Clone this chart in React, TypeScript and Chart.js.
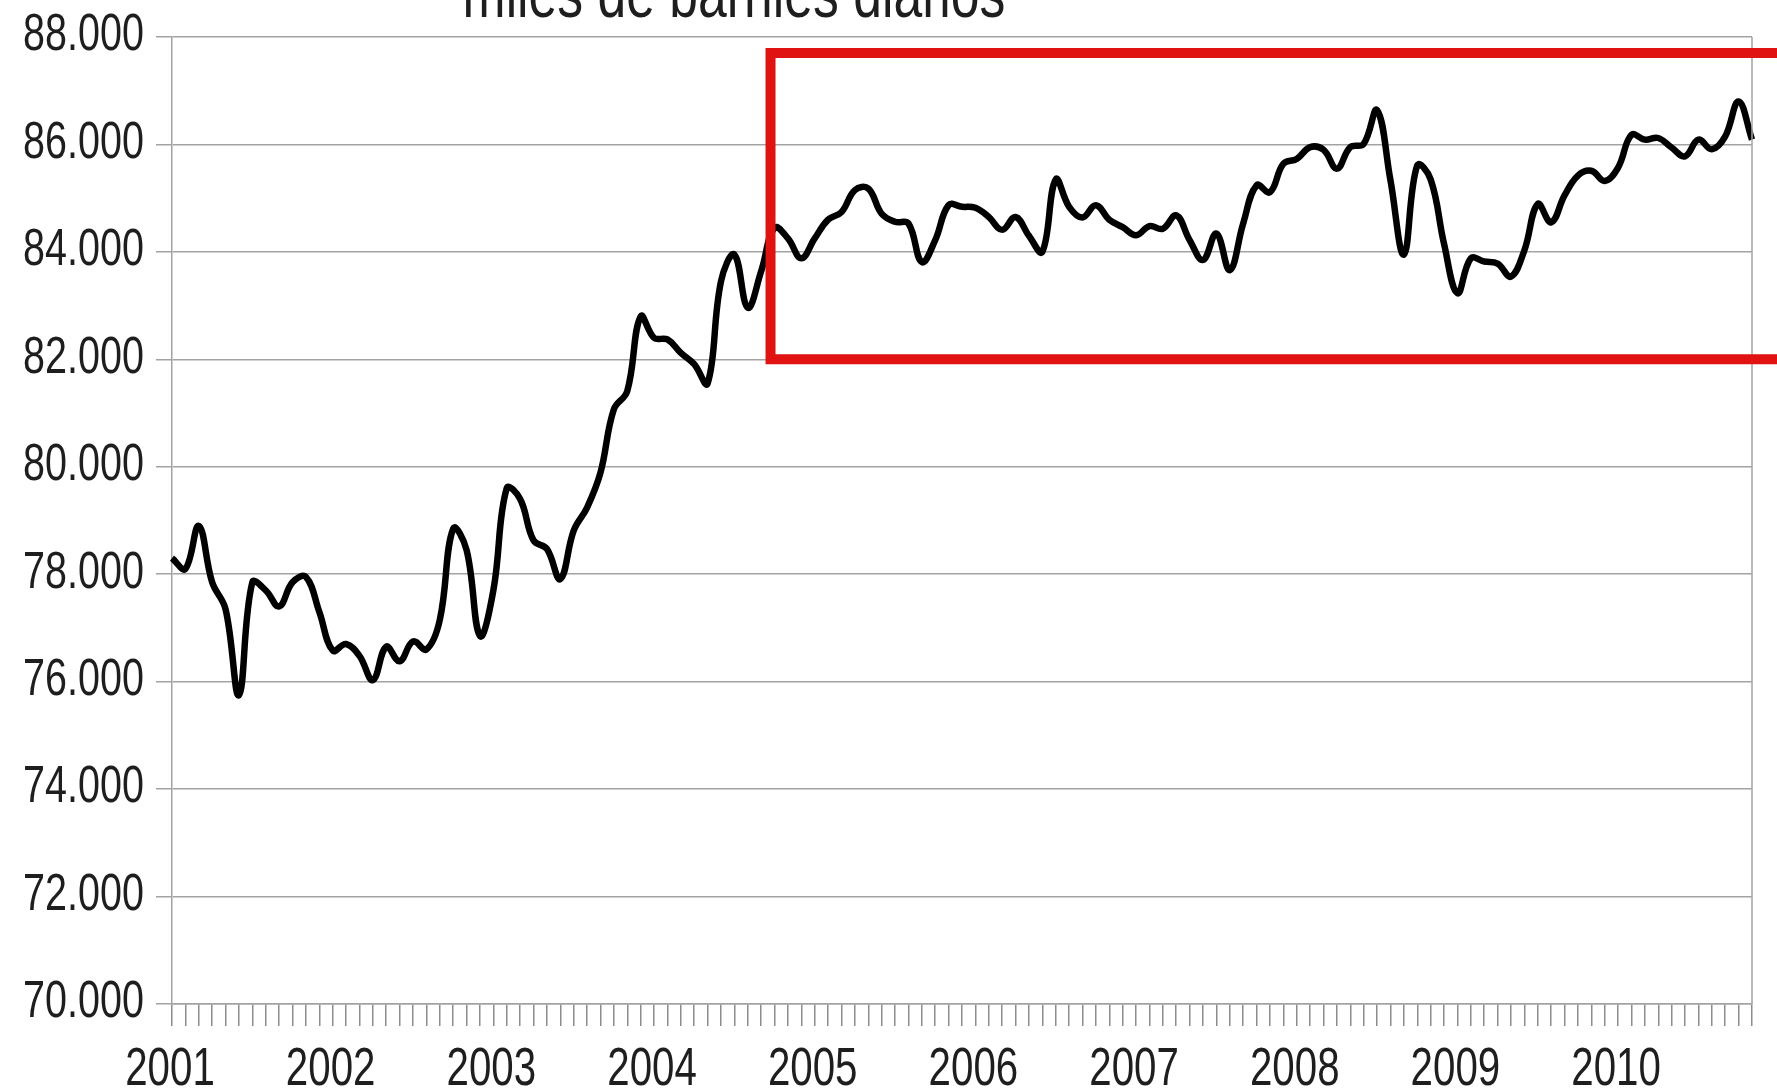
import React, { useEffect, useRef } from "react";
import { Chart, registerables } from "chart.js";

Chart.register(...registerables);

// ---- data -------------------------------------------------------------
const TITLE = "miles de barriles diarios";
const YEAR_LABELS = ["2001", "2002", "2003", "2004", "2005", "2006", "2007", "2008", "2009", "2010"];

// monthly values, Jan 2001 .. Nov 2010 (miles de barriles diarios)
const PRODUCTION = [
  78300, 78100, 78900, 77850, 77350, 75750, 77850, 77700, 77400, 77850, 77950, 77300,
  76580, 76700, 76480, 76030, 76650, 76380, 76750, 76600, 77150, 78850, 78450, 76850,
  77700, 79600, 79400, 78630, 78470, 77910, 78810, 79240, 79890, 81070, 81410, 82800,
  82400, 82370, 82120, 81910, 81550, 83450, 83950, 82960, 83640, 84450, 84250, 83880,
  84250, 84600, 84740, 85150, 85180, 84710, 84560, 84530, 83810, 84220, 84870, 84840,
  84820, 84650, 84410, 84650, 84300, 84000, 85350, 84840, 84640, 84870, 84600, 84460,
  84310, 84480, 84430, 84680, 84220, 83850, 84340, 83660, 84530, 85240, 85110, 85640,
  85730, 85950, 85900, 85550, 85950, 86010, 86640, 85330, 83950, 85610, 85350, 84150,
  83230, 83880, 83820, 83780, 83540, 84030, 84890, 84550, 85050, 85420, 85510, 85320,
  85570, 86180, 86090, 86120, 85940, 85780, 86090, 85910, 86150, 86800, 86090,
];

const Y_MIN = 70000;
const Y_MAX = 88000;
const Y_STEP = 2000;

// highlighted box (month index from Jan 2001, value range)
const BOX_START_MONTH = 44.7;
const BOX_TOP = 87700;
const BOX_BOTTOM = 82000;

// ---- helpers ----------------------------------------------------------
const MONTH_LABELS = PRODUCTION.map((_, i) => {
  const y = Number(YEAR_LABELS[0]) + Math.floor(i / 12);
  const m = (i % 12) + 1;
  return `${y}-${m < 10 ? "0" + m : m}`;
});

const fmtThousands = (v: number) => {
  const t = Math.floor(v / 1000);
  const r = Math.round(v % 1000);
  return `${t}.${String(r).padStart(3, "0")}`;
};

const FONT_FAMILY = '"Liberation Sans", Arial, sans-serif';
const TEXT_COLOR = "#1e1e1e";
const GRID_COLOR = "#a3a3a3";
const NARROW = 0.76; // horizontal squeeze of the narrow lettering

const W = 1777;
const H = 1089;

function narrowText(ctx: CanvasRenderingContext2D, text: string, x: number, y: number, size: number, align: CanvasTextAlign, baseline: CanvasTextBaseline, sx = NARROW) {
  ctx.save();
  ctx.font = `${size}px ${FONT_FAMILY}`;
  ctx.fillStyle = TEXT_COLOR;
  ctx.textAlign = align;
  ctx.textBaseline = baseline;
  ctx.translate(x, y);
  ctx.scale(sx, 1);
  ctx.fillText(text, 0, 0);
  ctx.restore();
}

const overlayPlugin = {
  id: "overlay",
  afterDatasetsDraw(chart: any) {
    const { ctx, chartArea, scales } = chart;
    const xs = scales.x;
    const ys = scales.y;
    ctx.save();
    // right border of plot area
    ctx.strokeStyle = GRID_COLOR;
    ctx.lineWidth = 1.5;
    ctx.beginPath();
    ctx.moveTo(chartArea.right, chartArea.top);
    ctx.lineTo(chartArea.right, chartArea.bottom);
    ctx.stroke();
    // red box
    const x0 = xs.getPixelForValue(BOX_START_MONTH);
    const yTop = ys.getPixelForValue(BOX_TOP);
    const yBot = ys.getPixelForValue(BOX_BOTTOM);
    ctx.strokeStyle = "#e01212";
    ctx.lineWidth = 10;
    ctx.beginPath();
    ctx.moveTo(chart.width + 20, yTop);
    ctx.lineTo(x0, yTop);
    ctx.lineTo(x0, yBot);
    ctx.lineTo(chart.width + 20, yBot);
    ctx.stroke();
    ctx.restore();
  },
  afterDraw(chart: any) {
    const { ctx, chartArea, scales } = chart;
    const xs = scales.x;
    const ys = scales.y;
    // y tick labels
    ys.ticks.forEach((t: any) => {
      const y = ys.getPixelForValue(t.value);
      narrowText(ctx, fmtThousands(t.value), chartArea.left - 28, y - 1, 52, "right", "middle");
    });
    // x (year) labels at each January
    YEAR_LABELS.forEach((lab, k) => {
      const x = xs.getPixelForValue(k * 12);
      narrowText(ctx, lab, x - 2, 1085, 53, "center", "alphabetic");
    });
    // title (partly above the picture)
    narrowText(ctx, TITLE, 734, 17, 68, "center", "alphabetic");
  },
};

export default function App() {
  const ref = useRef<HTMLCanvasElement | null>(null);

  useEffect(() => {
    document.body.style.margin = "0";
    document.body.style.background = "#ffffff";
    const canvas = ref.current;
    if (!canvas) return;
    const chart = new Chart(canvas, {
      type: "line",
      data: {
        labels: MONTH_LABELS,
        datasets: [
          {
            data: PRODUCTION,
            borderColor: "#000000",
            borderWidth: 6.5,
            pointRadius: 0,
            tension: 0.4,
            fill: false,
          },
        ],
      },
      options: {
        animation: false,
        responsive: false,
        maintainAspectRatio: false,
        layout: { padding: { left: 0, right: 25, top: 37, bottom: 0 } },
        plugins: {
          legend: { display: false },
          tooltip: { enabled: false },
          title: { display: false },
        },
        scales: {
          x: {
            type: "category",
            offset: false,
            grid: {
              drawOnChartArea: false,
              drawTicks: true,
              tickLength: 22,
              color: "#8c8c8c",
              lineWidth: 1.5,
            },
            border: { display: true, color: GRID_COLOR, width: 1.5 },
            ticks: {
              autoSkip: false,
              maxRotation: 0,
              minRotation: 0,
              display: true,
              color: "rgba(0,0,0,0)",
              font: { family: FONT_FAMILY, size: 10 },
              callback: () => "",
            },
            afterFit: (s: any) => {
              s.height = 85;
            },
          },
          y: {
            type: "linear",
            min: Y_MIN,
            max: Y_MAX,
            grid: {
              color: GRID_COLOR,
              lineWidth: 1.5,
              drawTicks: true,
              tickLength: 16,
            },
            border: { display: true, color: GRID_COLOR, width: 1.5 },
            ticks: {
              stepSize: Y_STEP,
              display: true,
              color: "rgba(0,0,0,0)",
              font: { family: FONT_FAMILY, size: 10 },
              callback: (v: any) => fmtThousands(Number(v)),
            },
            afterFit: (s: any) => {
              s.width = 172;
            },
          },
        },
      },
      plugins: [overlayPlugin],
    });
    return () => chart.destroy();
  }, []);

  return (
    <div style={{ width: W, height: H, background: "#fff" }}>
      <canvas ref={ref} width={W} height={H} style={{ display: "block", width: W, height: H }} />
    </div>
  );
}
